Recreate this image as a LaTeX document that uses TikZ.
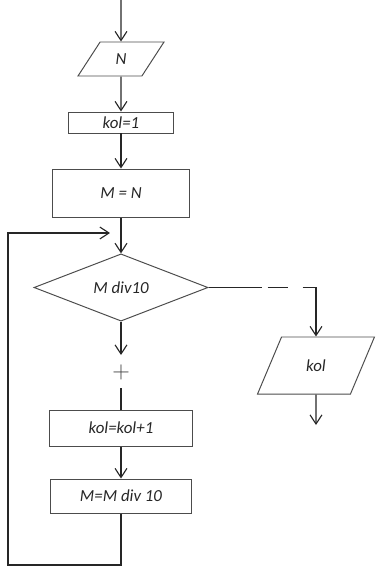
\documentclass[tikz,border=0pt]{standalone}
\usepackage{fontspec}
\setmainfont{Carlito}
\usetikzlibrary{arrows.meta,shapes.geometric}

\begin{document}
\begin{tikzpicture}[
    x=0.025cm, y=-0.025cm,
    every node/.style={font=\itshape\fontsize{12}{14}\selectfont, text=black!85},
    proc/.style={draw=black!70, line width=0.7pt, inner sep=0pt},
    io/.style={trapezium, trapezium left angle=62, trapezium right angle=118, trapezium stretches=true, draw=black!70, line width=0.7pt, inner sep=0pt},
    cond/.style={diamond, draw=black!70, line width=0.7pt, inner sep=0pt},
    arrow/.style={-{Straight Barb[length=6.5pt,width=8.5pt]}, line width=0.8pt, draw=black!85},
    line/.style={line width=0.8pt, draw=black!85}
]
\useasboundingbox (0,0) rectangle (376,567);

\node[io, minimum width=2.15cm, minimum height=0.85cm] (inN) at (121,59) {N};
\node[proc, minimum width=2.6cm, minimum height=0.525cm] (init) at (121,122.5) {kol=1};
\node[proc, minimum width=3.4cm, minimum height=1.2cm] (setM) at (121,193) {M = N};
\node[cond, minimum width=4.35cm, minimum height=1.675cm] (dec) at (121,287.5) {M div10};
\node[inner sep=0pt, text=black!75] (plus) at (121,372) {\fontsize{16}{16}\selectfont$+$};
\node[proc, minimum width=3.55cm, minimum height=0.9cm] (upd1) at (121,428) {kol=kol+1};
\node[proc, minimum width=3.5cm, minimum height=0.85cm] (upd2) at (121,496) {M=M div 10};
\node[io, trapezium left angle=60, trapezium right angle=120, minimum width=2.925cm, minimum height=1.425cm] (outK) at (316,365.5) {kol};

\coordinate (start) at (121,0);
\coordinate (join) at (121,233);
\coordinate (gapA) at (121,355);
\coordinate (gapB) at (121,388);
\coordinate (corner) at (8,565);
\coordinate (stop) at (316,425);

\draw[arrow] (start) -- (inN);
\draw[arrow] (inN) -- (init);
\draw[arrow] (init) -- (setM);
\draw[arrow] (setM) -- (dec);
\draw[arrow] (dec) -- (gapA);
\draw[line] (gapB) -- (upd1);
\draw[arrow] (upd1) -- (upd2);
\draw[arrow] (upd2) |- (corner) |- ([xshift=-0.275cm]join);
\draw[arrow, dash pattern=on 37.7pt off 4.3pt on 14.2pt off 10.7pt on 200pt] (dec.east) -| (outK.north);
\draw[arrow] (outK) -- (stop);
\end{tikzpicture}
\end{document}
